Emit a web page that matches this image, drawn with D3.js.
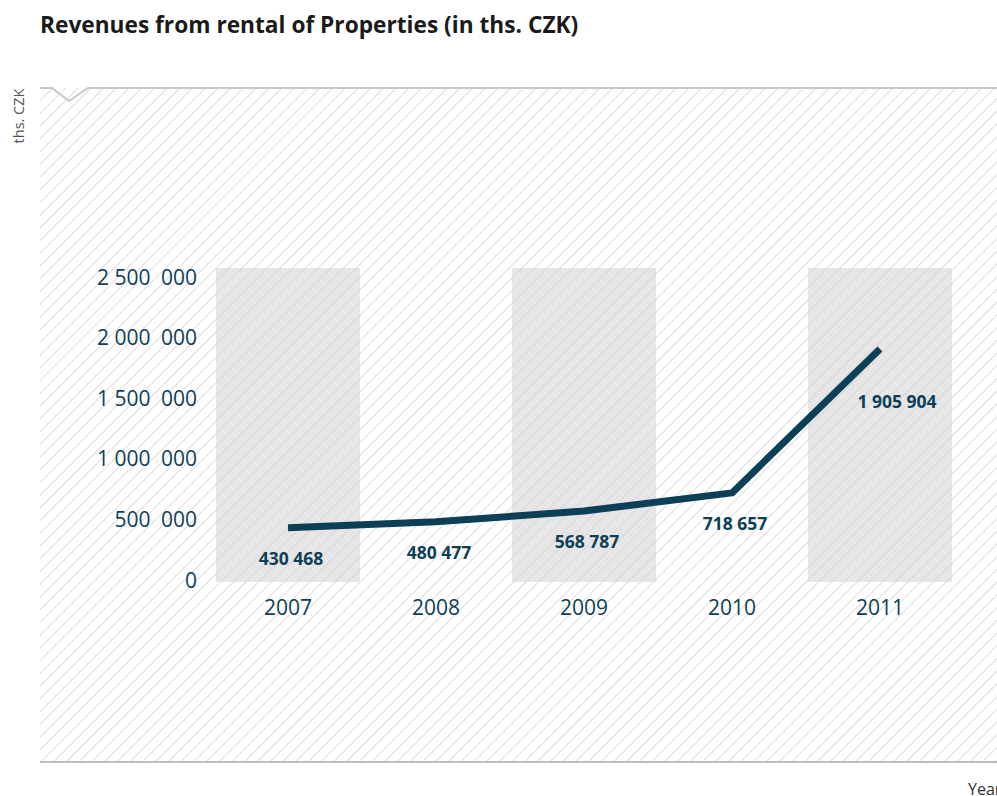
<!DOCTYPE html>
<html>
<head>
<meta charset="utf-8">
<script src="https://cdn.jsdelivr.net/npm/d3@7"></script>
<style>
  html, body { margin: 0; padding: 0; background: #fff; }
  svg { display: block; }
</style>
</head>
<body>
<svg id="chart" width="997" height="796"></svg>
<script>
// Revenues from rental of properties, thousands of CZK
const years = ["2007", "2008", "2009", "2010", "2011"];
const revenues = [430468, 480477, 568787, 718657, 1905904];
const yTicks = [0, 500000, 1000000, 1500000, 2000000, 2500000];
const shadedYears = ["2007", "2009", "2011"];

const panel = { left: 40, right: 997, top: 88, bottom: 762 };
const plot = { left: 214, right: 954, top: 268, bottom: 580 };

const svg = d3.select("#chart");
const ink = "#0d3f57";
const font = "'Open Sans', sans-serif";

// axis numbers: narrow gap after millions, wider gap before the last three digits
function fmtAxis(v) {
  if (v === 0) return "0";
  const s = d3.format("d")(v);
  const units = s.slice(-3), thousands = s.slice(-6, -3), millions = s.slice(0, -6);
  return (millions ? millions + " " : "") + thousands + "\u2002" + units;
}
const fmtValue = d3.formatLocale({ decimal: ",", thousands: " ", grouping: [3], currency: ["", ""] }).format(",d");

const x = d3.scaleBand().domain(years).range([plot.left, plot.right])
  .paddingInner(0.027).paddingOuter(0.0135);
const y = d3.scaleLinear().domain([0, 2500000]).range([plot.bottom, plot.top + 9]);

// diagonal hatch used across the whole panel
const defs = svg.append("defs");
const pat = defs.append("pattern")
  .attr("id", "hatch").attr("patternUnits", "userSpaceOnUse")
  .attr("width", 9).attr("height", 9)
  .attr("patternTransform", "rotate(45)");
pat.append("line").attr("x1", 0).attr("y1", 0).attr("x2", 0).attr("y2", 9)
  .attr("stroke", "#d4d4d4").attr("stroke-width", 1.6);

// title
svg.append("text").attr("x", 40).attr("y", 33)
  .attr("font-family", font)
  .attr("font-weight", 700).attr("font-size", 22.7).attr("fill", "#1a1a1a")
  .text("Revenues from rental of Properties (in ths. CZK)");

// shaded year columns
svg.append("g").selectAll("rect").data(shadedYears).join("rect")
  .attr("x", d => x(d)).attr("width", x.bandwidth())
  .attr("y", plot.top).attr("height", plot.bottom + 2 - plot.top)
  .attr("fill", "#e6e6e6");

// hatched panel
svg.append("rect")
  .attr("x", panel.left).attr("y", panel.top)
  .attr("width", panel.right - panel.left).attr("height", panel.bottom - panel.top)
  .attr("fill", "url(#hatch)");

// top border with a small notch
svg.append("path")
  .attr("d", `M${panel.left},${panel.top} L52,${panel.top} L69,101 L88,${panel.top} L${panel.right},${panel.top}`)
  .attr("fill", "none").attr("stroke", "#c8c8c8").attr("stroke-width", 2);

// bottom border
svg.append("line")
  .attr("x1", panel.left).attr("x2", panel.right)
  .attr("y1", panel.bottom).attr("y2", panel.bottom)
  .attr("stroke", "#bdbdbd").attr("stroke-width", 2);

// y axis labels
const yAxis = d3.axisLeft(y).tickValues(yTicks).tickFormat(fmtAxis).tickSize(0).tickPadding(0);
const gy = svg.append("g").attr("transform", "translate(197,0)").call(yAxis);
gy.select(".domain").remove();
gy.selectAll("text")
  .attr("font-family", font).attr("font-size", 21)
  .attr("fill", ink).attr("dy", "0.34em");

// x axis labels
const xAxis = d3.axisBottom(x).tickSize(0).tickPadding(0);
const gx = svg.append("g").attr("transform", "translate(0,607)").call(xAxis);
gx.select(".domain").remove();
gx.selectAll("text")
  .attr("font-family", font).attr("font-size", 21)
  .attr("fill", ink).attr("dy", "0.36em");

// revenue line
const pts = years.map((yr, i) => [x(yr) + x.bandwidth() / 2, y(revenues[i])]);
svg.append("path")
  .attr("d", d3.line()(pts))
  .attr("fill", "none").attr("stroke", ink).attr("stroke-width", 7)
  .attr("stroke-linejoin", "round");

// value labels, set below the line (last one to the lower right)
svg.append("g").selectAll("text").data(revenues).join("text")
  .attr("x", (d, i) => pts[i][0] + (i === revenues.length - 1 ? 17 : 3))
  .attr("y", (d, i) => pts[i][1] + (i === revenues.length - 1 ? 53 : 31))
  .attr("text-anchor", "middle").attr("dy", "0.35em")
  .attr("font-family", font).attr("font-weight", 700)
  .attr("font-size", 17.5).attr("fill", ink)
  .text(d => fmtValue(d));

// axis titles
svg.append("text")
  .attr("transform", "translate(24,116) rotate(-90)")
  .attr("text-anchor", "middle")
  .attr("font-family", font).attr("font-size", 14.5)
  .attr("fill", "#555").text("ths. CZK");

svg.append("text").attr("x", 968).attr("y", 795)
  .attr("font-family", font).attr("font-size", 16)
  .attr("fill", "#333").text("Year");
</script>
</body>
</html>
